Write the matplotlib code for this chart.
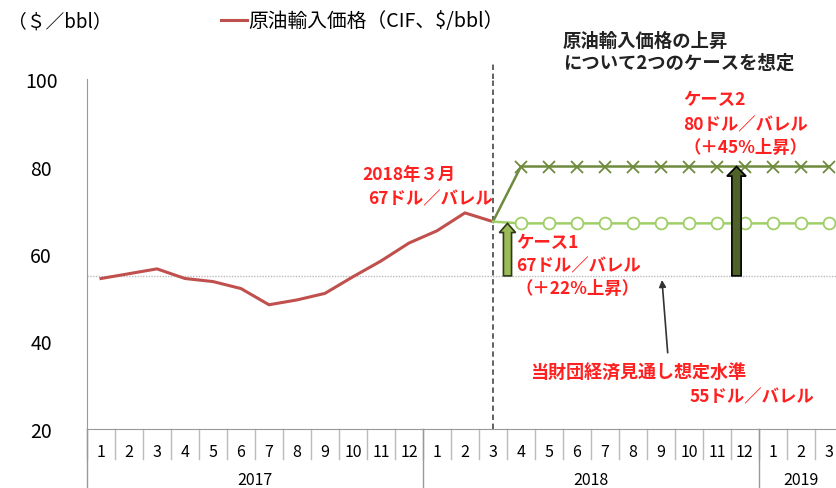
import matplotlib
matplotlib.use("Agg")
import matplotlib.pyplot as plt
import matplotlib.transforms as mtransforms

plt.rcParams['font.family'] = ['Noto Sans CJK JP', 'DejaVu Sans']

# 月次データ (2017/1 - 2019/3)
months = [str(m) for m in range(1, 13)] * 2 + ["1", "2", "3"]
years = ["2017", "2018", "2019"]
year_spans = [(0, 12), (12, 24), (24, 27)]

# 原油輸入価格 (CIF, $/bbl) 2017/1 - 2018/3
actual = [54.4, 55.5, 56.6, 54.4, 53.7, 52.1, 48.4, 49.5, 51.0, 54.8,
          58.4, 62.5, 65.3, 69.4, 67.4]
case1_level = 67
case2_level = 80
base_level = 55

n = len(months)
x_act = list(range(len(actual)))
x_fc = list(range(len(actual) - 1, n))          # 2018/3 から
case1 = [actual[-1]] + [case1_level] * (len(x_fc) - 1)
case2 = [actual[-1]] + [case2_level] * (len(x_fc) - 1)

RED = "#c0504d"
TXT_RED = "#ff2020"
C1 = "#9fcf66"
C2 = "#6e8b3d"

fig = plt.figure(figsize=(8.37, 4.89), dpi=100)
ax = fig.add_axes([87 / 837, 1 - 430 / 489, 1 - 87 / 837, 350 / 489])

ax.axhline(base_level, color="#bbbbbb", lw=1, ls=(0, (1, 1)), zorder=1)
ax.plot(x_act, actual, color=RED, lw=2.2, zorder=3, label="原油輸入価格（CIF、$/bbl）")
ax.plot(x_fc, case2, color=C2, lw=1.8, zorder=3)
ax.plot(x_fc[1:], case2[1:], ls="none", marker="x", ms=8, mew=1.3, color=C2, zorder=4)
ax.plot(x_fc, case1, color=C1, lw=1.8, zorder=3)
ax.plot(x_fc[1:], case1[1:], ls="none", marker="o", ms=8.5, mfc="white", mec=C1, mew=1.3, zorder=4)

ax.axvline(len(actual) - 1, color="#555555", lw=1.3, ls=(0, (3, 2)), zorder=2)
ax.plot([len(actual) - 1] * 2, [100, 104], color="#555555", lw=1.3,
        ls=(0, (3, 2)), clip_on=False)

# 上昇幅の矢印
ax.arrow(14.52, base_level, 0, case1_level - base_level, width=0.29, head_width=0.58,
         head_length=2.1, length_includes_head=True, fc="#9bbb59", ec="#2f3a18",
         lw=1.2, zorder=5)
ax.arrow(22.70, base_level, 0, case2_level - base_level, width=0.33, head_width=0.68,
         head_length=2.2, length_includes_head=True, fc="#4f6228", ec="black",
         lw=1.2, zorder=5)

ax.annotate("", xy=(20.03, base_level - 0.3), xytext=(20.25, 36.8),
            arrowprops=dict(arrowstyle="-|>", color="#333333", lw=1.2,
                            mutation_scale=10))

ax.set_xlim(-0.5, 26.29)
ax.set_ylim(20, 100)
ax.set_yticks([20, 40, 60, 80, 100])
ax.tick_params(axis="y", length=0, labelsize=14, pad=33)
for lab in ax.get_yticklabels():
    lab.set_horizontalalignment("center")
ax.set_xticks([])
for s in ["top", "right"]:
    ax.spines[s].set_visible(False)
ax.spines["left"].set_color("#999999")
ax.spines["bottom"].set_color("#999999")
ax.spines["left"].set_bounds(20, 100)

# カテゴリ軸 (月・年)
tr = mtransforms.blended_transform_factory(ax.transData, ax.transAxes)
for i, m in enumerate(months):
    ax.text(i, -0.063, m, transform=tr, ha="center", va="center", fontsize=11.5)
    ax.plot([i - 0.5, i - 0.5], [0, -0.086], transform=tr, color="#bbbbbb",
            lw=1, clip_on=False)
for y, (a, b) in zip(years, year_spans):
    ax.text((a + b - 1) / 2, -0.143, y, transform=tr, ha="center", va="center",
            fontsize=11.5)
    ax.plot([a - 0.5, a - 0.5], [0, -0.17], transform=tr, color="#999999",
            lw=1, clip_on=False)

# 注記
def put(x, y, s, color=TXT_RED, size=12.5):
    ax.text(x, y, s, color=color, fontsize=size, fontweight="bold",
            ha="left", va="center", clip_on=False)

put(16.5, 108.7, "原油輸入価格の上昇", color="#222222", size=13.2)
put(16.5, 103.9, "について2つのケースを想定", color="#222222", size=13.2)
put(20.79, 95.4, "ケース2")
put(20.79, 89.7, "80ドル／バレル")
put(20.79, 84.5, "（＋45%上昇）")
put(9.32, 78.3, "2018年３月")
put(9.54, 72.6, "67ドル／バレル")
put(14.82, 62.7, "ケース1")
put(14.82, 57.3, "67ドル／バレル")
put(14.82, 52.2, "（＋22%上昇）")
put(15.32, 33.0, "当財団経済見通し想定水準", size=13)
put(21.04, 27.5, "55ドル／バレル")

fig.text(8 / 837, 1 - 22 / 489, "（＄／bbl）", fontsize=13.5, va="center")
fig.legend(loc="center left", bbox_to_anchor=(221 / 837, 1 - 22 / 489),
           frameon=False, fontsize=14.2, handlelength=1.3, handletextpad=0.1,
           borderpad=0, borderaxespad=0)

fig.savefig("out.png", dpi=100)
